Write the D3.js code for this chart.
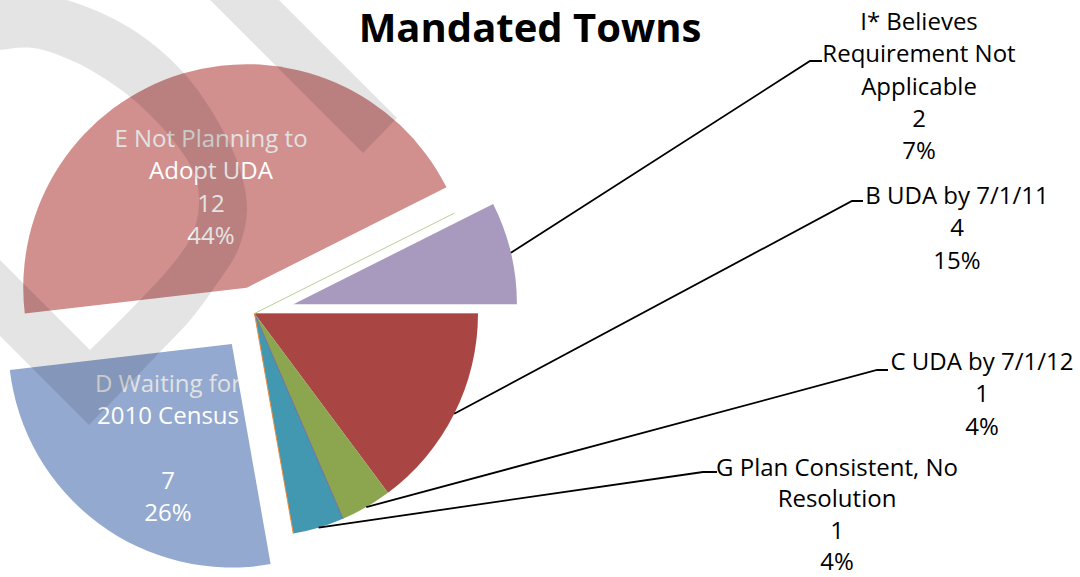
<!DOCTYPE html>
<html>
<head>
<meta charset="utf-8">
<script src="https://cdn.jsdelivr.net/npm/d3@7"></script>
<style>
  html, body { margin: 0; padding: 0; background: #fff; }
  svg { display: block; }
  text { font-family: "Open Sans", "DejaVu Sans", sans-serif; }
</style>
</head>
<body>
<svg id="chart" width="1080" height="577"></svg>
<script>
// ---- data ----
const categories = [
  "A", "B UDA by 7/1/11", "C UDA by 7/1/12", "F",
  "G Plan Consistent, No Resolution", "H",
  "D Waiting for 2010 Census", "E Not Planning to Adopt UDA", "J",
  "I* Believes Requirement Not Applicable"
];
const towns = [0, 4, 1, 0, 1, 0, 7, 12, 0, 2];

// how each category name wraps in its data label
const labelLines = [
  [], ["B UDA by 7/1/11"], ["C UDA by 7/1/12"], [],
  ["G Plan Consistent, No", "Resolution"], [],
  ["D Waiting for", "2010 Census", ""],
  ["E Not Planning to", "Adopt UDA"], [],
  ["I* Believes", "Requirement Not", "Applicable"]
];

// ---- styling ----
const sliceColors = ["#8496c2", "#a94644", "#8ba64e", "#7a6c9e", "#4298b0",
                     "#ee8c3c", "#94a9d0", "#d18f8e", "#b7d092", "#a899be"];
const explode = [0, 0, 0, 0, 0, 0, 38, 27, 0, 40];

// label anchors: centre x, first baseline, line step, leader elbow
const labelLayout = {
  1: { x: 957, y: 204, step: 32.3, elbow: [852, 201], tail: 863 },
  2: { x: 982, y: 370, step: 32.3, elbow: [877, 370], tail: 888 },
  4: { x: 837, y: 476, step: 31.4, elbow: [703, 472], tail: 717 },
  6: { x: 168, y: 392, step: 32.3, inside: true },
  7: { x: 211, y: 147, step: 32.3, inside: true },
  9: { x: 919, y: 30,  step: 32.3, elbow: [810, 61], tail: 822 }
};

const W = 1080, H = 577;
const cx = 254.5, cy = 313.5, R = 223.5;
const fontSize = 24;

const svg = d3.select("#chart");
const total = d3.sum(towns);
const pct = d3.format(".0%");

const pie = d3.pie().sort(null).value(d => d)
  .startAngle(Math.PI / 2).endAngle(Math.PI / 2 + 2 * Math.PI);
const arcs = pie(towns);
const arc = d3.arc().innerRadius(0).outerRadius(R);

const offsetOf = (a, i) => {
  const mid = (a.startAngle + a.endAngle) / 2;
  return [explode[i] * Math.sin(mid), -explode[i] * Math.cos(mid)];
};

const pieG = svg.append("g").attr("transform", `translate(${cx},${cy})`);
const defs = svg.append("defs");

// slices
arcs.forEach((a, i) => {
  if (a.value === 0) return;
  const [dx, dy] = offsetOf(a, i);
  pieG.append("path")
    .attr("d", arc(a))
    .attr("transform", `translate(${dx},${dy})`)
    .attr("fill", sliceColors[i]);
  defs.append("clipPath").attr("id", "clip-" + i)
    .append("path")
    .attr("d", arc(a))
    .attr("transform", `translate(${cx + dx},${cy + dy})`);
});

// zero-value slices collapse to a single radius line
arcs.forEach((a, i) => {
  if (a.value !== 0) return;
  pieG.append("line")
    .attr("x1", 0).attr("y1", 0)
    .attr("x2", R * Math.sin(a.startAngle))
    .attr("y2", -R * Math.cos(a.startAngle))
    .attr("stroke", sliceColors[i])
    .attr("stroke-width", 1);
});

// data labels and leader lines
Object.keys(labelLayout).forEach(key => {
  const i = +key;
  const a = arcs[i];
  const lay = labelLayout[i];
  const lines = labelLines[i].concat([String(towns[i]), pct(towns[i] / total)]);

  if (!lay.inside) {
    const mid = (a.startAngle + a.endAngle) / 2;
    const [dx, dy] = offsetOf(a, i);
    const sx = cx + dx + R * Math.sin(mid);
    const sy = cy + dy - R * Math.cos(mid);
    const path = d3.path();
    path.moveTo(sx, sy);
    path.lineTo(lay.elbow[0], lay.elbow[1]);
    path.lineTo(lay.tail, lay.elbow[1]);
    svg.append("path")
      .attr("d", path.toString())
      .attr("fill", "none")
      .attr("stroke", "#000")
      .attr("stroke-width", 1.8);
  }

  const t = svg.append("text")
    .attr("text-anchor", "middle")
    .attr("font-size", fontSize)
    .attr("fill", lay.inside ? "#ffffff" : "#000000");
  if (lay.inside) t.attr("clip-path", `url(#clip-${i})`);
  lines.forEach((ln, k) => {
    t.append("tspan")
      .attr("x", lay.x)
      .attr("y", lay.y + k * lay.step)
      .attr("fill", lay.inside && k === 0 ? "#e2e2e2" : null)
      .text(ln);
  });
});

// faint background emblem laid over the plot
const curve = d3.line().curve(d3.curveCatmullRom);
const outerEdge = [[-60, -28], [0, -12], [67, 0], [130, 28], [182, 71], [220, 125],
                   [240, 170], [247, 210], [238, 250], [216, 285], [192, 318],
                   [160, 352], [89, 425]];
const innerEdge = [[90, 350], [140, 300], [172, 265], [192, 235], [199, 205],
                   [195, 175], [182, 152], [167, 133], [145, 110], [117, 87],
                   [75, 62], [33, 48], [0, 50], [-60, 60]];
const bowl = curve(outerEdge) + "L-60,276L-60,200" + curve(innerEdge).replace(/^M/, "L") + "Z";
const stem = "M150,-60L219,-60L397,118L363,153Z";
const mark = svg.append("g").attr("fill", "#000").attr("fill-opacity", 0.105);
mark.append("path").attr("d", bowl);
mark.append("path").attr("d", stem);

// title
svg.append("text")
  .attr("x", 530).attr("y", 42)
  .attr("text-anchor", "middle")
  .attr("font-size", 40)
  .attr("font-weight", "bold")
  .attr("fill", "#000")
  .text("Mandated Towns");
</script>
</body>
</html>
